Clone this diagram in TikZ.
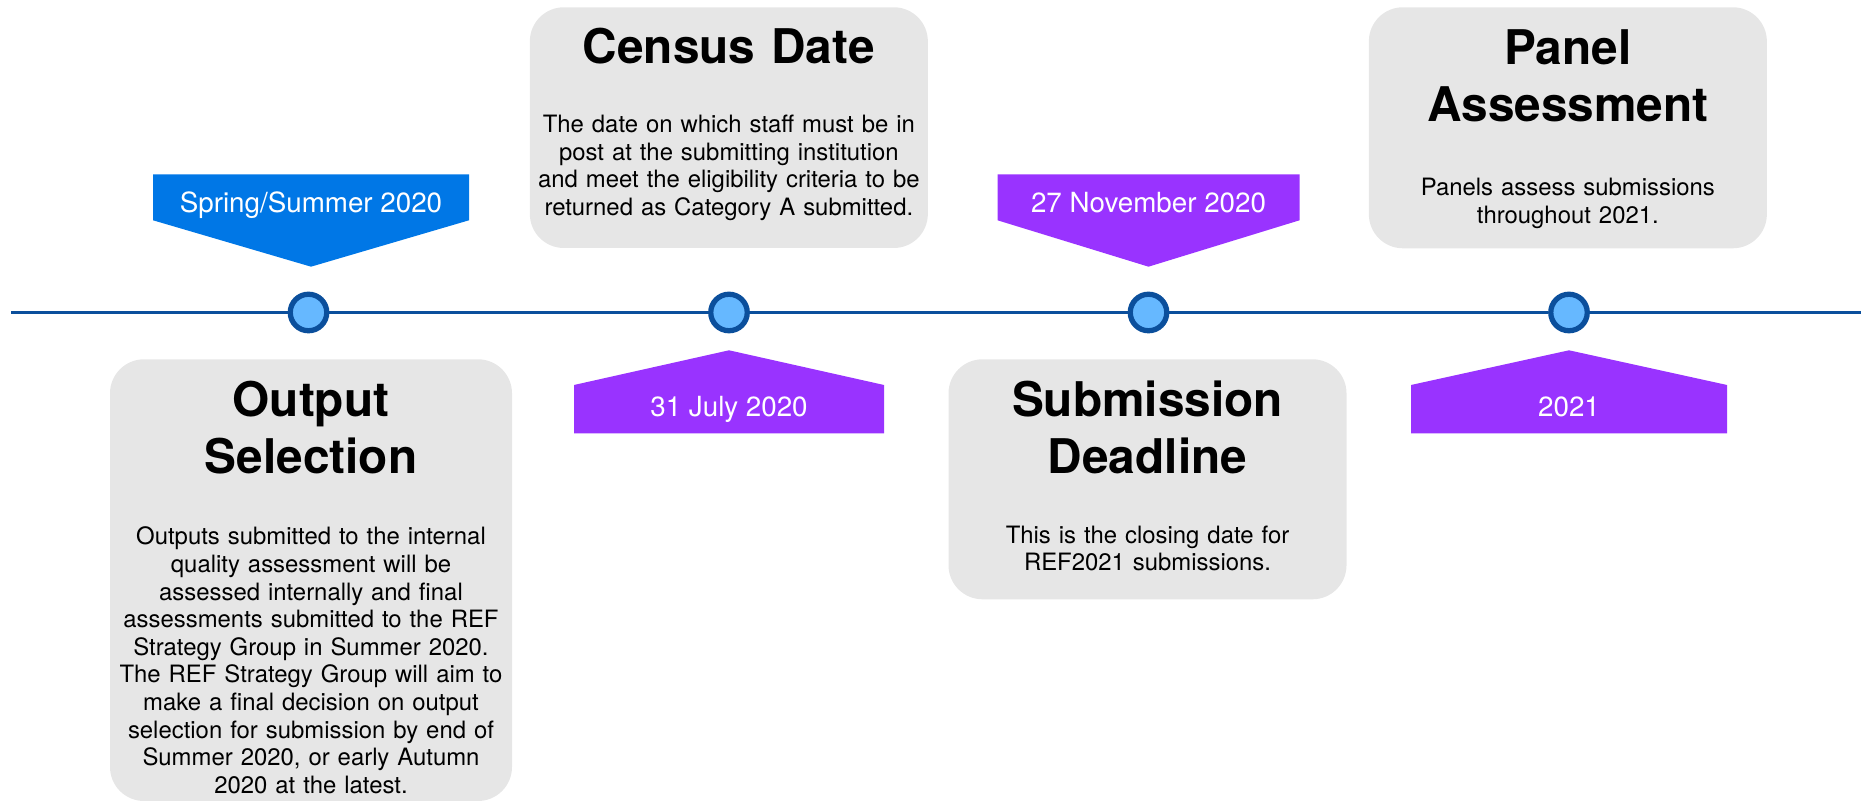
\documentclass[tikz,border=0pt]{standalone}
\usepackage{fontspec}
\setmainfont{TeX Gyre Heros}
\usetikzlibrary{positioning, calc}

\definecolor{lineblue}{HTML}{0B4F9C}
\definecolor{dotblue}{HTML}{66B8FF}
\definecolor{flagblue}{HTML}{0077E6}
\definecolor{flagpurple}{HTML}{9933FF}
\definecolor{boxgrey}{HTML}{E6E6E6}

\begin{document}
\begin{tikzpicture}[
    milestone/.style={circle, draw=lineblue, fill=dotblue, line width=3pt, minimum size=0.73cm, inner sep=0pt},
    infobox/.style={rectangle, rounded corners=0.68cm, fill=boxgrey, minimum width=7.96cm, inner sep=0pt, outer sep=0pt},
    boxtitle/.style={anchor=base, text width=7.9cm, align=center, inner sep=0pt, font=\fontsize{27.2}{32.4}\selectfont\bfseries},
    boxtext/.style={anchor=base, text width=7.9cm, align=center, inner sep=0pt, font=\fontsize{13.6}{15.7}\selectfont},
    flagtext/.style={anchor=base, text=white, inner sep=0pt, font=\fontsize{15.8}{19}\selectfont}
]
    \useasboundingbox (0,0) rectangle (37.22,16.06);

    % Timeline with its four milestones
    \coordinate (start) at (0.22,9.81);
    \coordinate (end) at (37.22,9.81);
    \node[milestone] (m1) at (6.17,9.81) {};
    \node[milestone] (m2) at (14.58,9.81) {};
    \node[milestone] (m3) at (22.97,9.81) {};
    \node[milestone] (m4) at (31.38,9.81) {};
    \draw[lineblue, line width=2.1pt] (start) -- (m1) -- (m2) -- (m3) -- (m4) -- (end);

    % Date flags above the line
    \foreach \m/\dx/\w/\c/\txt in {m1/0.05/3.16/flagblue/{Spring/Summer 2020}, m3/0/3.02/flagpurple/{27 November 2020}} {
        \fill[\c] ($(\m)+(\dx,0.916)$) -- ++(-\w,0.928) -- ++(0,0.92) -- ++(2*\w,0) -- ++(0,-0.92) -- cycle;
        \node[flagtext] (date-\m) at ($(\m)+(\dx,1.99)$) {\txt};
    }

    % Date flags below the line
    \foreach \m/\w/\txt in {m2/3.1/31 July 2020, m4/3.16/2021} {
        \fill[flagpurple] ($(\m)+(0,-0.756)$) -- ++(-\w,-0.694) -- ++(0,-0.966) -- ++(2*\w,0) -- ++(0,0.966) -- cycle;
        \node[flagtext] (date-\m) at ($(\m)+(0,-2.09)$) {\txt};
    }

    % Output Selection
    \node[infobox, minimum width=8.04cm, minimum height=8.834cm] (outbox) at (6.22,4.457) {};
    \node[boxtitle] (outtitle) at (6.22,7.72) {Output\\Selection};
    \node[boxtext] (outtext) at (6.22,5.16) {Outputs submitted to the internal\\quality assessment will be\\assessed internally and final\\assessments submitted to the REF\\Strategy Group in Summer 2020.\\The REF Strategy Group will aim to\\make a final decision on output\\selection for submission by end of\\Summer 2020, or early Autumn\\2020 at the latest.};

    % Census Date
    \node[infobox, minimum height=4.814cm] (censusbox) at (14.577,13.507) {};
    \node[boxtitle] (censustitle) at (14.577,14.78) {Census Date};
    \node[boxtext] (censustext) at (14.577,13.406) {The date on which staff must be in\\post at the submitting institution\\and meet the eligibility criteria to be\\returned as Category A submitted.};

    % Submission Deadline
    \node[infobox, minimum height=4.8cm] (subbox) at (22.95,6.474) {};
    \node[boxtitle] (subtitle) at (22.95,7.726) {Submission\\Deadline};
    \node[boxtext] (subtext) at (22.95,5.194) {This is the closing date for\\REF2021 submissions.};

    % Panel Assessment
    \node[infobox, minimum height=4.82cm] (panelbox) at (31.357,13.504) {};
    \node[boxtitle] (paneltitle) at (31.357,14.76) {Panel\\Assessment};
    \node[boxtext] (paneltext) at (31.357,12.15) {Panels assess submissions\\throughout 2021.};
\end{tikzpicture}
\end{document}
